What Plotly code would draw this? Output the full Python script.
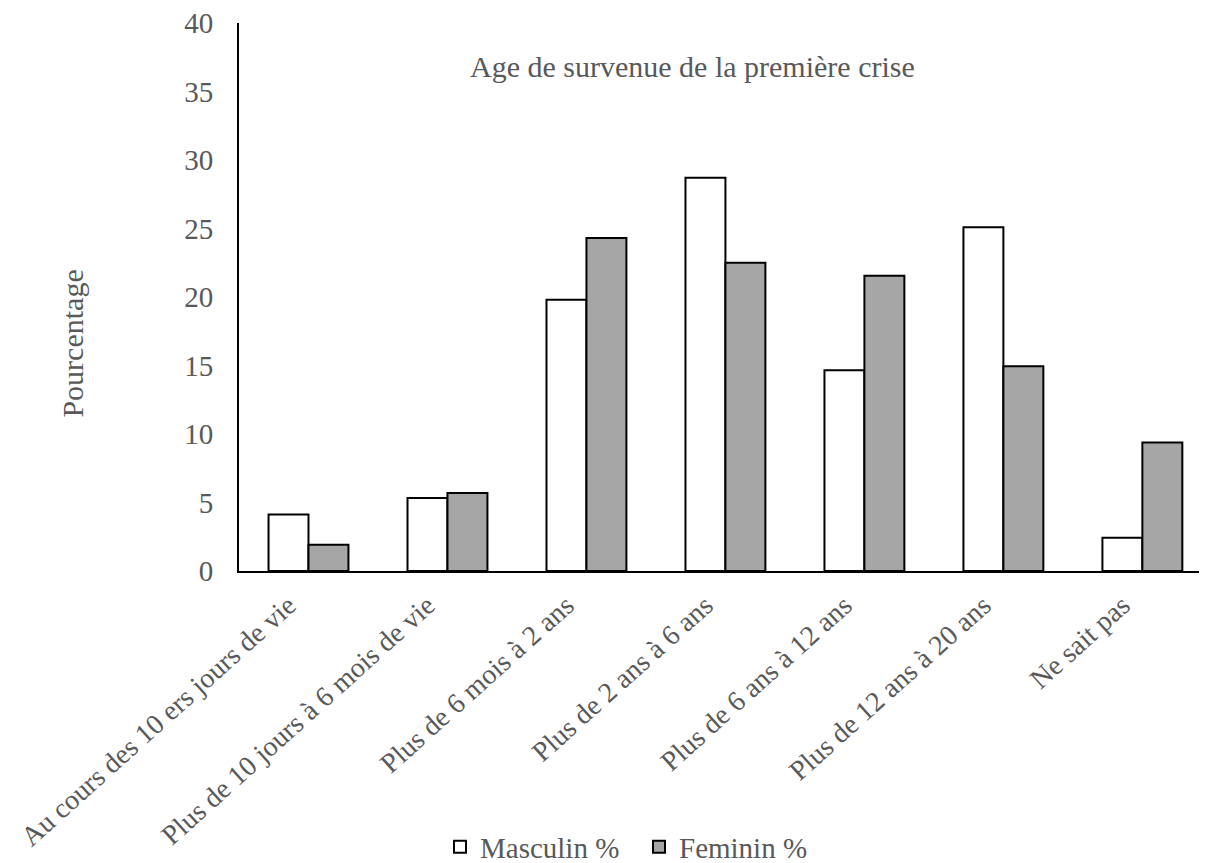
import plotly.graph_objects as go

categories = [
    "Au cours des 10 ers jours de vie",
    "Plus de 10 jours à 6 mois de vie",
    "Plus de 6 mois à 2 ans",
    "Plus de 2 ans à 6 ans",
    "Plus de 6 ans à 12 ans",
    "Plus de 12 ans à 20 ans",
    "Ne sait pas",
]
masculin = [4.13, 5.32, 19.8, 28.7, 14.65, 25.1, 2.43]
feminin = [1.92, 5.69, 24.3, 22.5, 21.55, 14.95, 9.38]
y_ticks = [0, 5, 10, 15, 20, 25, 30, 35, 40]

font_family = "Liberation Serif, Times New Roman, serif"
gray = "#595959"

# page body has an 8px margin: figure drawn at (8, 8)
W, H = 1199, 855
L, T, B = 231, 15, 292
plot_w = W - L

fig = go.Figure()
fig.add_trace(go.Bar(
    x=categories, y=masculin, name="Masculin %",
    marker=dict(color="white", line=dict(color="black", width=2)),
))
fig.add_trace(go.Bar(
    x=categories, y=feminin, name="Feminin %",
    marker=dict(color="#a6a6a6", line=dict(color="black", width=2)),
))

fig.update_layout(
    width=W, height=H,
    paper_bgcolor="white", plot_bgcolor="white",
    margin=dict(l=L, r=0, t=T, b=B, autoexpand=False),
    barmode="group", bargap=0.425, bargroupgap=0,
    font=dict(family=font_family, color=gray, size=28),
    legend=dict(orientation="h", xref="container", yref="container",
                x=(455 - 8 - 15) / W, xanchor="left", y=1 - (847 - 8) / H, yanchor="middle",
                font=dict(size=29, color=gray), itemwidth=30, entrywidth=154,
                traceorder="normal"),
    annotations=[
        dict(text="Age de survenue de la première crise", xref="paper", yref="paper",
             x=(692.5 - 239) / plot_w, y=0.92, xanchor="center", yanchor="middle",
             showarrow=False, font=dict(size=30, color=gray)),
        dict(text="Pourcentage", xref="paper", yref="paper",
             x=(73 - 239) / plot_w, y=0.415, xanchor="center", yanchor="middle",
             textangle=-90, showarrow=False, font=dict(size=30, color=gray)),
    ],
)
fig.update_xaxes(
    range=[-0.5, 6.465], showline=True, linecolor="black", linewidth=2,
    tickangle=-42, ticks="", tickfont=dict(size=28, color=gray), showgrid=False,
    ticklabelstandoff=5, ticklabelshift=-20, automargin=False,
)
fig.update_yaxes(
    range=[0, 40], tickvals=y_ticks, showline=True, linecolor="black", linewidth=2,
    ticks="", showgrid=False, zeroline=False, tickfont=dict(size=29, color=gray),
    ticklabelstandoff=18, ticklabeloverflow="allow", automargin=False,
)

fig.write_html("out.html")
